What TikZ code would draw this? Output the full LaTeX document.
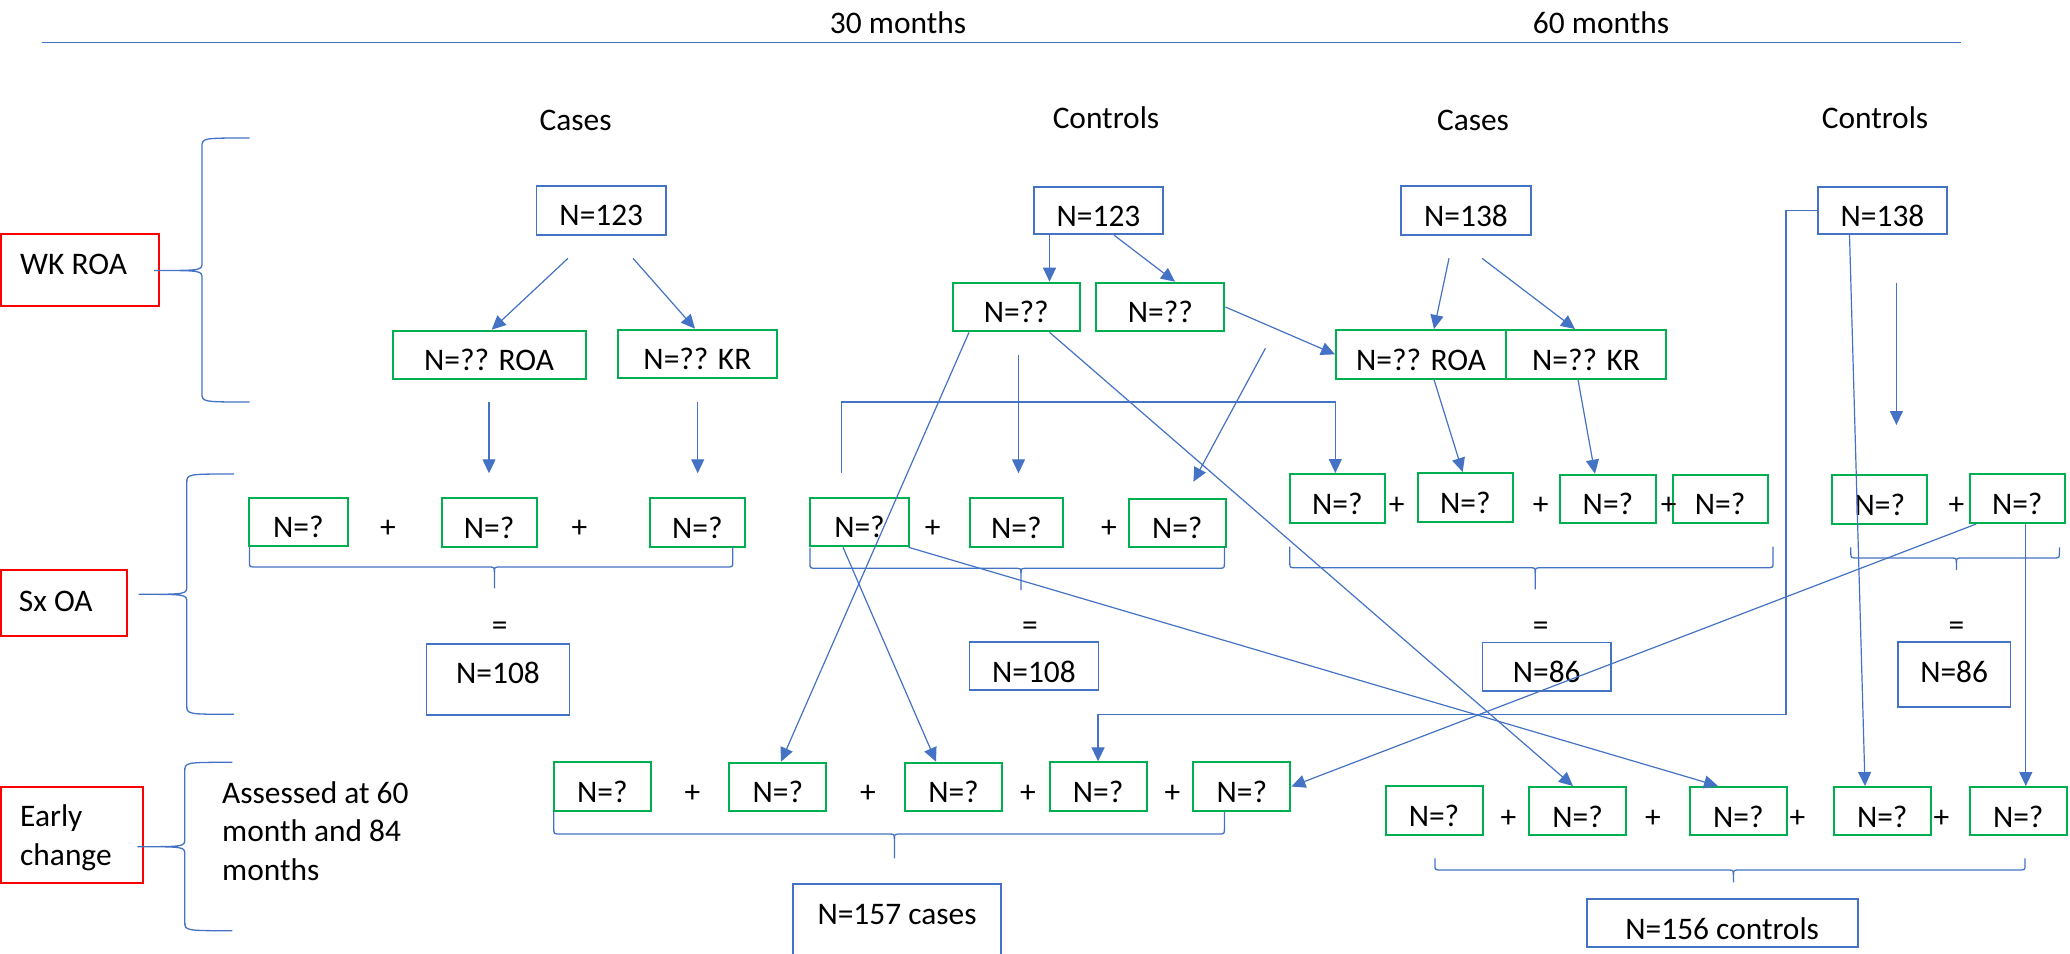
\documentclass[tikz,border=0pt]{standalone}
\usepackage{fontspec}
\setmainfont{Carlito}
\usetikzlibrary{arrows.meta,fit,calc}
\definecolor{lineblue}{HTML}{4472C4}
\definecolor{boxgreen}{HTML}{00B050}
\definecolor{boxred}{HTML}{FF0000}

% framed box from corner (x1,y1) to (x2,y2), label set 40 units below its top edge
\newcommand{\nbox}[7]{%
  \node[#1, fit={(#3,#4) (#5,#6)}] (#2) {};
  \node[txt, anchor=base] (#2-t) at ({(#3+#5)/2},{#4+40}) {#7};
}
% left curly brace: end x, spine x, tip x, top y, middle y, bottom y
\newcommand{\sidebrace}[6]{%
  \draw[brace] (#1,#4) .. controls (#2,#4) .. (#2,{#4+9}) -- (#2,{#5-8})
    .. controls (#2,#5) .. (#3,#5) .. controls (#2,#5) .. (#2,{#5+8})
    -- (#2,{#6-9}) .. controls (#2,#6) .. (#1,#6);
}
% brace under a row: left x, right x, top y, bar y, middle x, tip y
\newcommand{\rowbrace}[6]{%
  \draw[brace] (#1,#3) -- (#1,{#4-5}) .. controls (#1,#4) .. ({#1+7},#4)
    -- ({#5-7},#4) .. controls (#5,#4) .. (#5,{#4+5}) -- (#5,#6);
  \draw[brace] (#5,{#4+5}) .. controls (#5,#4) .. ({#5+7},#4)
    -- ({#2-7},#4) .. controls (#2,#4) .. (#2,{#4-5}) -- (#2,#3);
}

\begin{document}
\begin{tikzpicture}[x=0.5pt,y=-0.5pt,
  txt/.style={font=\fontsize{15.7}{19.2}\selectfont, inner sep=0pt, text=black},
  bluebox/.style={draw=lineblue, line width=0.85pt, inner sep=0pt},
  greenbox/.style={draw=boxgreen, line width=1pt, inner sep=0pt},
  redbox/.style={draw=boxred, line width=1pt, inner sep=0pt},
  conn/.style={draw=lineblue, line width=0.6pt, -{Triangle[length=7pt,width=6.5pt]}},
  plain/.style={draw=lineblue, line width=0.6pt},
  brace/.style={draw=lineblue, line width=0.65pt},
]
\useasboundingbox (0,0) rectangle (2070,953);
\clip (0,0) rectangle (2070,953);

% time axis
\node[txt, anchor=base] (m30) at (898,33.3) {30 months};
\node[txt, anchor=base] (m60) at (1601,33.3) {60 months};
\coordinate (axisL) at (42,42.7);
\coordinate (axisR) at (1961,42.7);
\draw[plain, line width=0.75pt] (axisL) -- (axisR);

% group headings
\node[txt, anchor=base] (h1) at (575.6,130) {Cases};
\node[txt, anchor=base] (h2) at (1106,128.5) {Controls};
\node[txt, anchor=base] (h3) at (1473,130) {Cases};
\node[txt, anchor=base] (h4) at (1875,128.5) {Controls};

% row labels (multi-line labels are placed by their last baseline)
\node[redbox, fit={(1,234) (159,306)}] (r1) {};
\node[txt, anchor=base west] (r1-t) at (19.8,274) {WK ROA};
\node[redbox, fit={(1,570) (127,635.7)}] (r2) {};
\node[txt, anchor=base west] (r2-t) at (18.5,611.7) {Sx OA};
\node[redbox, fit={(1,786.7) (142.6,883.3)}] (r3) {};
\node[txt, anchor=base west, align=left] (r3-t) at (19.8,865) {Early\\change};
\node[txt, anchor=base west, align=left] (note) at (221.8,880) {Assessed at 60\\month and 84\\months};

\sidebrace{249.5}{202}{154}{138}{270.5}{402}
\sidebrace{234}{186.8}{138.6}{474}{594.3}{714.3}
\sidebrace{232.3}{184.8}{137.3}{762.3}{846.7}{930.7}

% top tier
\nbox{bluebox}{ca30}{536.6}{185.7}{666}{234.7}{N=123}
\nbox{bluebox}{co30}{1034}{186.7}{1163}{234.3}{N=123}
\nbox{bluebox}{ca60}{1401}{186}{1531}{234.7}{N=138}
\nbox{bluebox}{co60}{1818}{186.7}{1947}{234.3}{N=138}

% WK ROA split
\nbox{greenbox}{ca30r}{392.7}{330.7}{585.5}{379.3}{N=?? ROA}
\nbox{greenbox}{ca30k}{617.8}{329.7}{777}{378.3}{N=?? KR}
\nbox{greenbox}{co30a}{952.5}{282.7}{1080}{331.3}{N=??}
\nbox{greenbox}{co30b}{1096.4}{282.7}{1224.4}{331.3}{N=??}
\nbox{greenbox}{ca60r}{1336}{330}{1506}{378.7}{N=?? ROA}
\nbox{greenbox}{ca60k}{1506}{330}{1666}{378.7}{N=?? KR}

% Sx OA row
\nbox{greenbox}{s1}{248.8}{497.7}{347.9}{546.3}{N=?}
\nbox{greenbox}{s2}{441.6}{498.3}{536.6}{547}{N=?}
\nbox{greenbox}{s3}{650}{498.3}{744.6}{547}{N=?}
\nbox{greenbox}{s4}{810}{497.7}{909}{546.3}{N=?}
\nbox{greenbox}{s5}{969.6}{498.3}{1063}{547}{N=?}
\nbox{greenbox}{s6}{1128.7}{498.7}{1225.8}{547}{N=?}
\nbox{greenbox}{s7}{1289.8}{474}{1384.8}{522.7}{N=?}
\nbox{greenbox}{s8}{1417.8}{473}{1512.9}{521.7}{N=?}
\nbox{greenbox}{s9}{1560.4}{474.7}{1655.5}{523.3}{N=?}
\nbox{greenbox}{s10}{1672.6}{474.7}{1767.7}{523.3}{N=?}
\nbox{greenbox}{s11}{1832.4}{475}{1927.4}{523.7}{N=?}
\nbox{greenbox}{s12}{1969.7}{474.3}{2064.7}{523}{N=?}

\node[txt, anchor=base] (p1) at (388,537.7) {+};
\node[txt, anchor=base] (p2) at (579.5,537.7) {+};
\node[txt, anchor=base] (p3) at (932.7,537.7) {+};
\node[txt, anchor=base] (p4) at (1109,537.7) {+};
\node[txt, anchor=base] (p5) at (1396.7,514) {+};
\node[txt, anchor=base] (p6) at (1540.6,514) {+};
\node[txt, anchor=base] (p7) at (1668.7,514) {+};
\node[txt, anchor=base] (p8) at (1956.5,514) {+};

\rowbrace{249.5}{732.7}{546.7}{567}{494.4}{588.3}
\rowbrace{810}{1224.4}{547.5}{568.3}{1021}{590}
\rowbrace{1289.8}{1773}{546.7}{567.7}{1535.3}{589.3}
\rowbrace{1850.8}{2059.4}{547.3}{558}{1956.4}{570}

\node[txt, anchor=base] (q1) at (499.7,635) {=};
\node[txt, anchor=base] (q2) at (1030,635) {=};
\node[txt, anchor=base] (q3) at (1540.6,635) {=};
\node[txt, anchor=base] (q4) at (1956.5,635) {=};

% Sx OA totals
\nbox{bluebox}{t1}{426.4}{643.7}{569.6}{714.7}{N=108}
\nbox{bluebox}{t2}{969.5}{642.3}{1098.4}{690.3}{N=108}
\nbox{bluebox}{t3}{1482.5}{642.5}{1611}{690.8}{N=86}
\nbox{bluebox}{t4}{1897.7}{642}{2010.6}{707.3}{N=86}

% early change row
\nbox{greenbox}{e1}{553.8}{762.3}{650.8}{811}{N=?}
\nbox{greenbox}{e2}{729.4}{762.7}{826.4}{811.3}{N=?}
\nbox{greenbox}{e3}{905}{762.7}{1002}{811.3}{N=?}
\nbox{greenbox}{e4}{1049.5}{762.3}{1146.6}{810.7}{N=?}
\nbox{greenbox}{e5}{1193.4}{762.3}{1290.4}{810.7}{N=?}
\nbox{greenbox}{k1}{1385.5}{786.3}{1482.5}{835}{N=?}
\nbox{greenbox}{k2}{1529.4}{787}{1625.8}{835}{N=?}
\nbox{greenbox}{k3}{1689.8}{787}{1786.8}{835}{N=?}
\nbox{greenbox}{k4}{1833.7}{787}{1930.7}{835}{N=?}
\nbox{greenbox}{k5}{1969.7}{787}{2066.7}{835}{N=?}

\node[txt, anchor=base] (g1) at (692.4,802.3) {+};
\node[txt, anchor=base] (g2) at (868,802.3) {+};
\node[txt, anchor=base] (g3) at (1028,802.3) {+};
\node[txt, anchor=base] (g4) at (1172.3,802.3) {+};
\node[txt, anchor=base] (g5) at (1508.3,827) {+};
\node[txt, anchor=base] (g6) at (1652.8,827) {+};
\node[txt, anchor=base] (g7) at (1797.4,827) {+};
\node[txt, anchor=base] (g8) at (1941.3,827) {+};

\rowbrace{553.8}{1224.4}{811.7}{834}{894.4}{858.3}
\rowbrace{1435}{2025}{858.3}{870}{1733.4}{882.3}

\nbox{bluebox}{tc}{793.3}{884}{1000.7}{1000}{N=157 cases}
\nbox{bluebox}{tn}{1586.7}{899}{1857.7}{946.7}{N=156 controls}

% connectors
\coordinate (u1) at (568,258.3);
\coordinate (u2) at (633,258.3);
\draw[conn] (u1) -- ($(ca30r.north)+(2.6,0)$);
\draw[conn] (u2) -- ($(ca30k.north)+(-2.4,0)$);
\coordinate (u3a) at (489,402.3);
\coordinate (u3b) at (489,473.3);
\coordinate (u4a) at (697.7,402.3);
\coordinate (u4b) at (697.7,473.3);
\draw[conn] (u3a) -- (u3b);
\draw[conn] (u4a) -- (u4b);

\draw[conn] ($(co30.south)+(-49,0)$) -- ($(co30a.north)+(33.25,0)$);
\draw[conn] ($(co30.south)+(15.5,0)$) -- ($(co30b.north)+(14.6,0)$);
\draw[conn] (co30b.east) -- (ca60r.west);
\draw[conn] ($(co30a.south)+(-47.25,0)$) -- ($(e2.north)+(3.1,0)$);
\draw[conn] ($(co30a.south)+(33.25,0)$) -- ($(k2.north)+(-4.6,0)$);
\coordinate (u10a) at (1265.4,348.3);
\coordinate (u10b) at (1193.4,481.7);
\draw[conn] (u10a) -- (u10b);
\coordinate (u11a) at (1018.5,355);
\coordinate (u11b) at (1018.5,473.3);
\draw[conn] (u11a) -- (u11b);
\coordinate (u12a) at (841.6,473.3);
\coordinate (u12b) at (841.6,402);
\draw[conn] (u12a) -- (u12b) -| ($(s7.north)+(-2,0)$);

\coordinate (u13) at (1449,258.3);
\coordinate (u14) at (1482,258.3);
\draw[conn] (u13) -- ($(ca60r.north)+(13,0)$);
\draw[conn] (u14) -- ($(ca60k.north)+(-11,0)$);
\draw[conn] ($(ca60r.south)+(13,0)$) -- ($(s8.north)+(-2.7,0)$);
\draw[conn] ($(ca60k.south)+(-8,0)$) -- ($(s9.north)+(-13,0)$);

\coordinate (b17) at (1786,714.3);
\draw[conn] (co60.west) -| (b17) -| (e4.north);
\draw[conn] ($(co60.south)+(-33,0)$) -- ($(k4.north)+(-17.2,0)$);
\coordinate (u19a) at (1896.4,282.7);
\coordinate (u19b) at (1896.4,425);
\draw[conn] (u19a) -- (u19b);

\draw[conn] ($(s4.south)+(-16.5,0)$) -- ($(e3.north)+(-17.5,0)$);
\draw[conn] ($(s4.south east)+(-1.4,0)$) -- ($(k3.north)+(-20.3,0)$);
\draw[conn] ($(s12.south)+(-41,0)$) -- (e5.east);
\draw[conn] ($(s12.south)+(8.6,0)$) -- ($(k5.north)+(7.6,0)$);
\end{tikzpicture}
\end{document}
